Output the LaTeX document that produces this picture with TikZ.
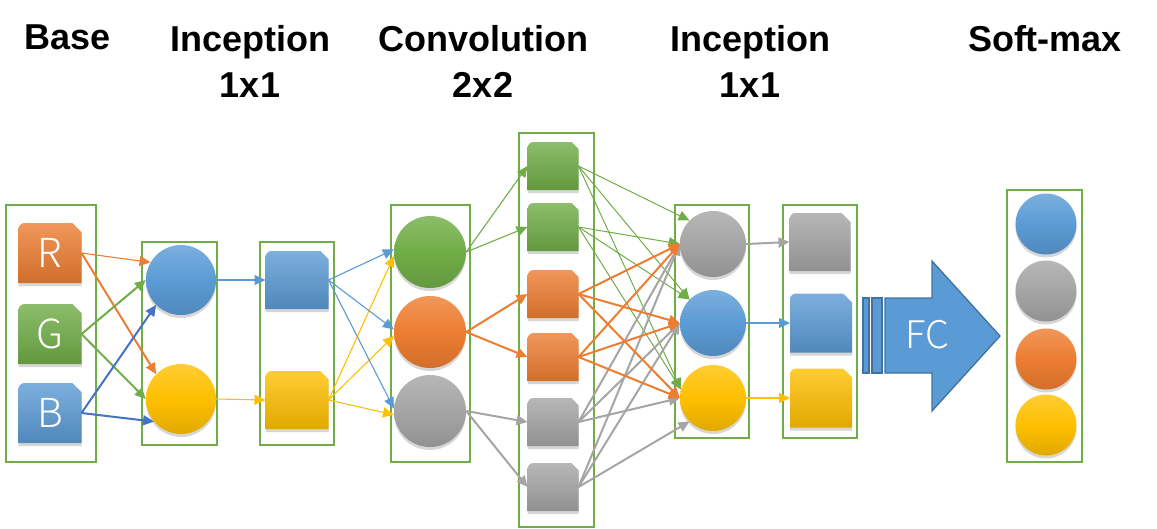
\documentclass[tikz,border=0pt]{standalone}
\usepackage{fontspec}
\setmainfont{Liberation Sans}
\newfontfamily\lightfont{Noto Sans CJK JP Light}
\usetikzlibrary{arrows.meta,shadows}
\definecolor{cblue}{HTML}{5B9BD5}
\definecolor{corange}{HTML}{ED7D31}
\definecolor{cgreen}{HTML}{70AD47}
\definecolor{cgray}{HTML}{A5A5A5}
\definecolor{cgold}{HTML}{FFC000}
\definecolor{cdblue}{HTML}{4472C4}
\definecolor{cfcline}{HTML}{41719C}

% snipped-and-rounded square: name, position, width, height, colour, snip
\newcommand\snipnode[6]{%
  \node[inner sep=0pt, outer sep=0pt, minimum width=#3, minimum height=#4] (#1) at #2 {};
  \fill[black, opacity=0.16, transform canvas={yshift=-3pt}]
    (#1.south west) -- ([yshift=-6pt]#1.north west)
    arc[start angle=180, end angle=90, radius=6pt]
    -- ([xshift=-#6]#1.north east) -- ([yshift=-#6]#1.north east)
    -- (#1.south east) -- cycle;
  \shade[top color=#5!80!white, middle color=#5, bottom color=#5!88!black]
    (#1.south west) -- ([yshift=-6pt]#1.north west)
    arc[start angle=180, end angle=90, radius=6pt]
    -- ([xshift=-#6]#1.north east) -- ([yshift=-#6]#1.north east)
    -- (#1.south east) -- cycle;
}

\tikzset{
  groupbox/.style={draw=cgreen, line width=2.6pt},
  ball/.style 2 args={circle, inner sep=0pt, minimum size=#1,
    top color=#2!80!white, bottom color=#2!88!black, middle color=#2,
    drop shadow={shadow xshift=0pt, shadow yshift=-3pt, opacity=0.16, fill=black}},
  title/.style={font=\bfseries\fontsize{36}{46}\selectfont, inner sep=0pt,
    align=center, anchor=north, text=black},
  letter/.style={font=\lightfont\fontsize{40}{40}\selectfont, text=white, inner sep=0pt},
  thinarr/.style={->, draw=#1, line width=1.1pt},
  thickarr/.style={->, draw=#1, line width=2pt},
}

\begin{document}
\begin{tikzpicture}[x=1pt, y=-1pt, >={Triangle[length=11pt,width=10pt]}]
\useasboundingbox (0,0) rectangle (1157,528);

% titles
\node[title] (tbase) at (68,25) {Base};
\node[title] (tinc1) at (250,25) {Inception\\1x1};
\node[title] (tconv) at (483,25) {Convolution\\2x2};
\node[title] (tinc2) at (750,25) {Inception\\1x1};
\node[title] (tsoft) at (1045,25) {Soft-max};

% group boxes
\draw[groupbox] (6,205) rectangle (96,462);
\draw[groupbox] (142,242) rectangle (217,445);
\draw[groupbox] (260,242) rectangle (334,445);
\draw[groupbox] (391,205) rectangle (470,462);
\draw[groupbox] (519,133) rectangle (594,527);
\draw[groupbox] (675,205) rectangle (749,438);
\draw[groupbox] (783,205) rectangle (857,438);
\draw[groupbox] (1007,190) rectangle (1082,462);

% base
\snipnode{R}{(50,253)}{63pt}{60pt}{corange}{9pt}
\snipnode{G}{(50,334)}{63pt}{60pt}{cgreen}{9pt}
\snipnode{B}{(50,413)}{63pt}{60pt}{cblue}{9pt}
\node[letter] (Rt) at (R) {R};
\node[letter] (Gt) at (G) {G};
\node[letter] (Bt) at (B) {B};

% inception 1x1
\node[ball={70pt}{cblue}] (i1b) at (181,280) {};
\node[ball={70pt}{cgold}] (i1y) at (181,399) {};
\snipnode{s2b}{(297,280)}{63pt}{58pt}{cblue}{8pt}
\snipnode{s2y}{(297,400)}{63pt}{58pt}{cgold}{8pt}

% convolution 2x2
\node[ball={72pt}{cgreen}] (cg) at (430,252) {};
\node[ball={72pt}{corange}] (co) at (430,332) {};
\node[ball={72pt}{cgray}] (cy) at (430,411) {};
\snipnode{g1}{(553,166)}{51pt}{48pt}{cgreen}{7pt}
\snipnode{g2}{(553,227)}{51pt}{48pt}{cgreen}{7pt}
\snipnode{o1}{(553,294)}{51pt}{48pt}{corange}{7pt}
\snipnode{o2}{(553,357)}{51pt}{48pt}{corange}{7pt}
\snipnode{y1}{(553,422)}{51pt}{48pt}{cgray}{7pt}
\snipnode{y2}{(553,487)}{51pt}{48pt}{cgray}{7pt}

% inception 1x1 (second)
\node[ball={66pt}{cgray}] (i2g) at (713,244) {};
\node[ball={66pt}{cblue}] (i2b) at (713,323) {};
\node[ball={66pt}{cgold}] (i2y) at (713,398) {};
\snipnode{s4g}{(820,242)}{61pt}{58pt}{cgray}{9pt}
\snipnode{s4b}{(821,323)}{62pt}{59pt}{cblue}{9pt}
\snipnode{s4y}{(821,398)}{62pt}{59pt}{cgold}{9pt}

% FC arrow
\filldraw[fill=cblue, draw=cfcline, line width=1.3pt] (863,298) rectangle (869,373);
\filldraw[fill=cblue, draw=cfcline, line width=1.3pt] (872,298) rectangle (882,373);
\filldraw[fill=cblue, draw=cfcline, line width=1.3pt]
  (885,298) -- (932,298) -- (932,261) -- (1000,336) -- (932,411) -- (932,373) -- (885,373) -- cycle;
\node[letter, font=\lightfont\fontsize{38}{38}\selectfont] (fc) at (927,335) {FC};

% soft-max
\node[ball={61pt}{cblue}] (smb) at (1046,224) {};
\node[ball={61pt}{cgray}] (smg) at (1046,291) {};
\node[ball={61pt}{corange}] (smo) at (1046,359) {};
\node[ball={61pt}{cgold}] (smy) at (1046,425) {};

% connectors: base -> inception
\draw[thinarr=corange] (R.east) -- (i1b.150);
\draw[thickarr=corange] (R.east) -- (i1y.north west);
\draw[thickarr=cgreen] (G.east) -- (i1b.west);
\draw[thickarr=cgreen] (G.east) -- (i1y.west);
\draw[thickarr=cdblue] (B.east) -- (i1b.south west);
\draw[thickarr=cdblue] (B.east) -- (i1y.220);

% inception -> squares
\draw[thinarr=cblue] (i1b.east) -- (s2b.west);
\draw[thinarr=cgold] (i1y.east) -- (s2y.west);

% squares -> convolution circles
\foreach \t in {cg,co,cy} {
  \draw[thinarr=cblue] (s2b.east) -- (\t.176);
  \draw[thinarr=cgold] (s2y.east) -- (\t.186);
}

% convolution circles -> squares
\draw[thinarr=cgreen] (cg.east) -- (g1.west);
\draw[thinarr=cgreen] (cg.east) -- (g2.west);
\draw[thickarr=corange] (co.east) -- (o1.west);
\draw[thickarr=corange] (co.east) -- (o2.west);
\draw[thickarr=cgray] (cy.east) -- (y1.west);
\draw[thickarr=cgray] (cy.east) -- (y2.west);

% convolution squares -> inception 2
\draw[->, draw=cgreen, line width=1pt] (g1.east) -- (i2g.north west);
\draw[->, draw=cgreen, line width=1pt] (g2.east) -- (i2g.west);
\draw[->, draw=cgreen, line width=1pt] (g1.east) -- (i2b.north west);
\draw[->, draw=cgreen, line width=1pt] (g2.east) -- (i2b.north west);
\draw[->, draw=cgreen, line width=1pt] (g1.east) -- (i2y.165);
\draw[->, draw=cgreen, line width=1pt] (g2.east) -- (i2y.165);
\foreach \t in {i2g,i2b,i2y}
  \draw[thickarr=cgray] (y1.east) -- (\t.west);
\draw[thickarr=cgray] (y2.east) -- (i2g.west);
\draw[thickarr=cgray] (y2.east) -- (i2b.west);
\draw[thickarr=cgray] (y2.east) -- (i2y.south west);
\foreach \s in {o1,o2} \foreach \t in {i2g,i2b,i2y}
  \draw[thickarr=corange] (\s.east) -- (\t.west);

% inception 2 -> squares
\draw[thickarr=cgray] (i2g.east) -- (s4g.west);
\draw[thinarr=cblue] (i2b.east) -- (s4b.west);
\draw[->, draw=cgold, line width=1.5pt] (i2y.east) -- (s4y.west);
\end{tikzpicture}
\end{document}
